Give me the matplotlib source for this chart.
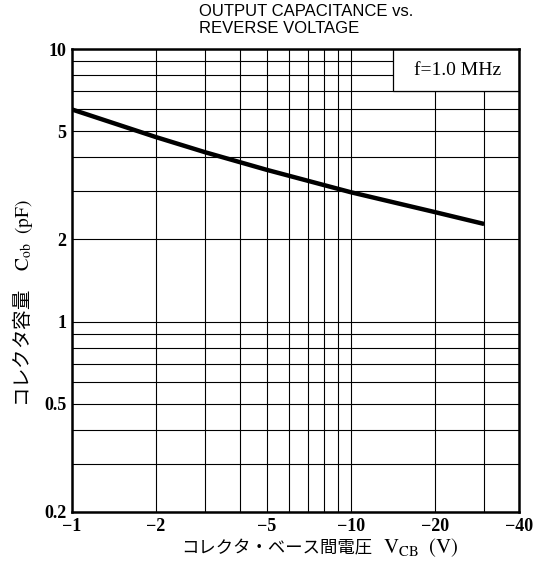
import matplotlib
matplotlib.use("Agg")
import matplotlib.pyplot as plt
from matplotlib.patches import Rectangle
from matplotlib.ticker import FixedLocator, FixedFormatter, NullFormatter

# data
vcb = [1, 2, 3, 5, 10, 20, 30]
cob = [6.0, 4.75, 4.18, 3.60, 2.98, 2.52, 2.28]

x_major = [1, 2, 5, 10, 20, 40]
x_labels = ["\u22121", "\u22122", "\u22125", "\u221210", "\u221220", "\u221240"]
x_minor = [3, 4, 6, 7, 8, 9, 30]
y_major = [0.2, 0.5, 1, 2, 5, 10]
y_labels = ["0.2", "0.5", "1", "2", "5", "10"]
y_minor = [0.3, 0.4, 0.6, 0.7, 0.8, 0.9, 3, 4, 6, 7, 8, 9]

plt.rcParams['mathtext.fontset'] = 'stix'

fig = plt.figure(figsize=(5.33, 5.64), dpi=100)
ax = fig.add_axes([72 / 533, 52 / 564, 447 / 533, 463 / 564])

ax.set_xscale('log')
ax.set_yscale('log')
ax.set_xlim(1, 40)
ax.set_ylim(0.2, 10)

ax.xaxis.set_major_locator(FixedLocator(x_major))
ax.xaxis.set_major_formatter(FixedFormatter(x_labels))
ax.xaxis.set_minor_locator(FixedLocator(x_minor))
ax.xaxis.set_minor_formatter(NullFormatter())
ax.yaxis.set_major_locator(FixedLocator(y_major))
ax.yaxis.set_major_formatter(FixedFormatter(y_labels))
ax.yaxis.set_minor_locator(FixedLocator(y_minor))
ax.yaxis.set_minor_formatter(NullFormatter())

ax.tick_params(which='both', length=0, labelsize=13, labelfontfamily='Liberation Serif')
ax.tick_params(axis='x', pad=4)
ax.tick_params(axis='y', pad=4)
plt.setp(ax.get_xticklabels() + ax.get_yticklabels(), fontweight='bold')

ax.grid(True, which='both', color='black', linewidth=0.8)
for sp in ax.spines.values():
    sp.set_linewidth(1.8)

ax.plot(vcb, cob, color='black', linewidth=3.2, solid_capstyle='butt', zorder=3)

# condition box in the top right corner, covers the grid
box = Rectangle((0.718, 0.909), 0.282, 0.091, transform=ax.transAxes,
                facecolor='white', edgecolor='black', linewidth=0.9, zorder=2)
ax.add_patch(box)
ax.text(0.862, 0.954, "f=1.0 MHz", transform=ax.transAxes, ha='center', va='center',
        fontfamily='Liberation Serif', fontsize=14, zorder=4)

# title
fig.text(199 / 533, 1 - 4 / 564, "OUTPUT CAPACITANCE vs.\nREVERSE VOLTAGE",
         ha='left', va='top', fontsize=12, linespacing=1.2,
         fontfamily=['Liberation Sans Narrow', 'Liberation Sans'])

# axis labels
fig.text(181 / 533, 1 - 548 / 564, "コレクタ・ベース間電圧",
         ha='left', va='center', fontsize=12.5, fontfamily='Noto Sans CJK JP')
fig.text(383 / 533, 1 - 548 / 564, r"$\mathrm{V_{CB}}\ \ \mathrm{(V)}$",
         ha='left', va='center', fontsize=15)
fig.text(23 / 533, 1 - 303 / 564, "コレクタ容量　" + r"$\mathrm{C_{ob}}\ \ \mathrm{(pF)}$",
         ha='center', va='center', rotation=90, fontsize=14,
         fontfamily='Noto Sans CJK JP')

fig.savefig("out.png", dpi=100, facecolor='white')
